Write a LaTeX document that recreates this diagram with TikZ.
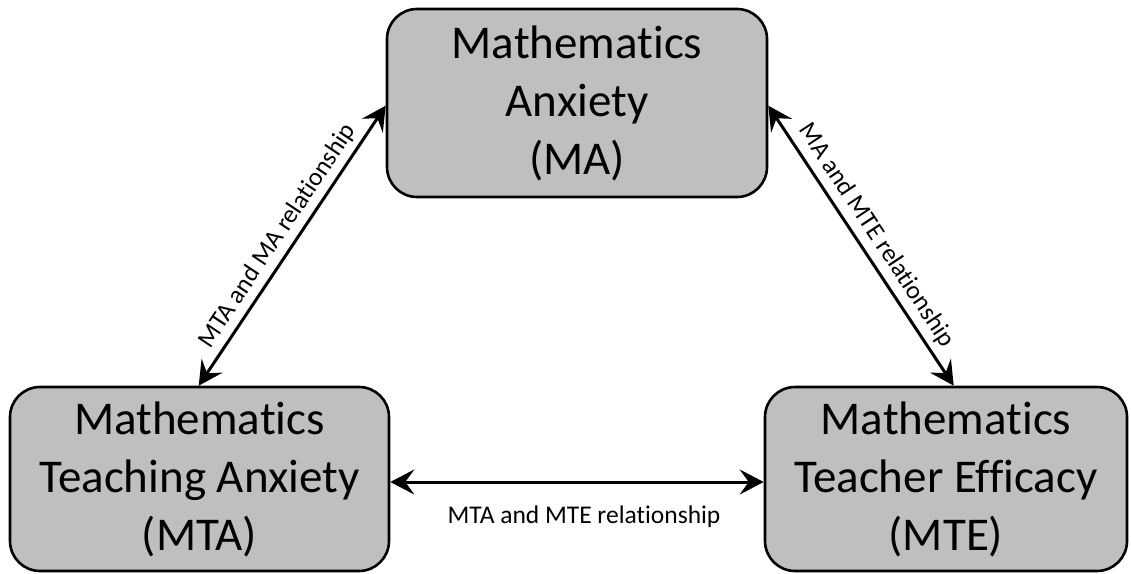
\documentclass[tikz,border=0pt]{standalone}
\usepackage{fontspec}
\setmainfont{Carlito}[Ligatures=NoCommon]
\usetikzlibrary{arrows.meta}
\definecolor{boxgray}{HTML}{BFBFBF}
\tikzset{
  conceptbox/.style={draw=black, line width=2.6pt, fill=boxgray, rounded corners=30pt,
    align=center, inner sep=0pt, font=\fontsize{47}{58}\selectfont},
  relarrow/.style={line width=3pt, {Stealth[length=24pt,width=25pt,inset=9pt]}-{Stealth[length=24pt,width=25pt,inset=9pt]}},
  rellabel/.style={inner sep=0pt, font=\fontsize{25.5}{30}\selectfont}
}
\begin{document}
\begin{tikzpicture}[x=1pt,y=1pt]
\useasboundingbox (0,0) rectangle (1131,573);
\node[conceptbox, minimum width=380pt, minimum height=188pt] (ma) at (577,470) {Mathematics\\Anxiety\\(MA)};
\node[conceptbox, minimum width=379pt, minimum height=184pt] (mta) at (199.5,94) {Mathematics\\Teaching Anxiety\\(MTA)};
\node[conceptbox, minimum width=362pt, minimum height=184pt] (mte) at (946,94) {Mathematics\\Teacher Efficacy\\(MTE)};
\draw[relarrow] ([xshift=190pt]mta.north west) -- ([yshift=-98pt]ma.north west)
  node[rellabel, midway, sloped, above=5pt] {MTA and MA relationship};
\draw[relarrow] ([yshift=-98pt]ma.north east) -- ([xshift=190pt]mte.north west)
  node[rellabel, midway, sloped, above=6pt] {MA and MTE relationship};
\draw[relarrow] ([yshift=-3pt]mta.east) -- ([yshift=-3pt]mte.west)
  node[rellabel, midway, below=22pt, xshift=7pt] {MTA and MTE relationship};
\end{tikzpicture}
\end{document}
